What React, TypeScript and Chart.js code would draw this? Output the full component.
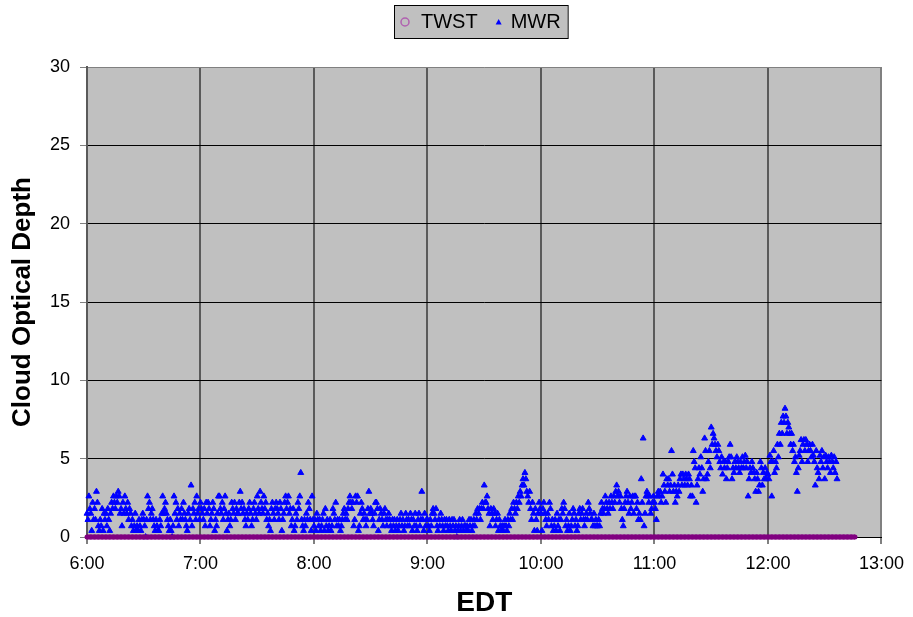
import { useEffect, useRef } from "react";
import { Chart, registerables } from "chart.js";

Chart.register(...registerables);

// ---------- data ----------
const SERIES_NAMES = ["TWST", "MWR"];
const X_TITLE = "EDT";
const Y_TITLE = "Cloud Optical Depth";
const X_TICK_LABELS = ["6:00", "7:00", "8:00", "9:00", "10:00", "11:00", "12:00", "13:00"];
const Y_TICK_LABELS = ["0", "5", "10", "15", "20", "25", "30"];
const X_MIN_MINUTES = 360; // 6:00
const X_MAX_MINUTES = 780; // 13:00

// MWR: one reading every 30 s starting at 6:00
const MWR_START_MINUTES = 360;
const MWR_STEP_MINUTES = 0.5;
const MWR_06 = [
  1.5, 1.1, 2.6, 1.8, 1.5, 0.4, 2.2, 1.1, 1.8, 1.1, 2.9, 2.2, 0.7, 0.4, 1.1, 0.7, 1.8, 0.4, 1.5, 1.1,
  1.5, 0.7, 1.8, 1.1, 0.4, 1.5, 2.2, 1.8, 2.6, 2.2, 1.8, 2.6, 2.2, 2.9, 2.6, 1.5, 1.8, 0.7, 2.2, 1.5,
  2.6, 1.8, 1.5, 2.2, 1.1, 1.8, 1.5, 0.7, 1.1, 0.4, 0.7, 1.5, 0.4, 0.7, 0.4, 1.1, 0.7, 0.4, 1.1, 1.5,
  1.1, 0.7, 0, 1.1, 2.6, 1.8, 2.2, 1.1, 1.5, 1.8, 1.1, 0.7, 0.4, 1.1, 0.7, 0.4, 0.4, 1.1, 0.7, 1.5,
  2.6, 1.5, 1.8, 2.2, 1.5, 1.1, 0.7, 0.4, 1.1, 0.4, 0, 0.7, 2.6, 1.5, 2.2, 1.1, 1.8, 0.7, 1.5, 1.1,
  1.8, 1.1, 2.2, 1.5, 1.1, 0.7, 0.4, 1.5, 1.8, 1.1, 3.3, 0.7, 1.8, 1.5, 2.2, 1.1, 2.6, 1.5, 1.8, 1.1,
];
const MWR_07 = [
  2.2, 1.8, 1.5, 1.1, 1.8, 0.7, 2.2, 1.5, 2.2, 1.8, 0.7, 1.1, 1.5, 2.2, 1.8, 0.4, 1.1, 0.7, 1.5, 2.6,
  2.6, 1.8, 1.5, 2.2, 1.1, 1.8, 2.6, 1.5, 0.4, 1.1, 1.5, 0.7, 1.1, 2.2, 1.8, 1.5, 2.2, 1.1, 1.8, 1.5,
  1.5, 2.2, 2.9, 1.8, 2.2, 1.5, 1.8, 1.1, 0.7, 1.5, 1.1, 1.8, 2.2, 1.5, 0.7, 1.1, 1.8, 2.2, 1.5, 1.1,
  2.6, 1.8, 1.5, 2.9, 2.2, 1.8, 1.5, 2.6, 1.8, 2.2, 1.1, 1.5, 0.7, 1.1, 0.4, 1.8, 2.2, 1.5, 1.1, 1.8,
  2.2, 1.8, 1.5, 1.1, 2.2, 1.8, 0.4, 1.1, 1.5, 2.2, 2.6, 1.8, 2.2, 2.6, 1.5, 1.8, 0.7, 1.1, 1.8, 0.4,
  0.7, 1.5, 1.1, 2.2, 1.8, 2.6, 4.1, 1.1, 0.7, 0.4, 1.1, 0.7, 1.5, 1.1, 2.2, 1.8, 1.1, 0.4, 2.6, 1.1,
];
const MWR_08 = [
  0.7, 1.1, 0.4, 1.5, 1.1, 0.7, 1.1, 0.4, 0.7, 1.1, 1.5, 0.4, 1.8, 0.7, 1.1, 0.4, 0.7, 1.1, 0.4, 0.7,
  1.8, 1.5, 1.1, 2.2, 0.7, 1.1, 0.7, 1.1, 0.4, 0.7, 1.1, 1.5, 1.8, 1.1, 1.5, 1.1, 1.8, 2.2, 2.6, 2.2,
  1.8, 2.2, 0.7, 1.1, 2.6, 2.2, 2.6, 0.4, 0.7, 1.5, 2.2, 1.8, 1.1, 1.5, 1.1, 0.7, 1.1, 1.8, 2.9, 1.5,
  1.8, 1.5, 1.1, 0.7, 1.5, 2.2, 2.2, 1.8, 0.4, 1.1, 1.8, 1.5, 1.1, 0.7, 1.5, 1.8, 1.1, 0.7, 1.1, 1.5,
  1.1, 0.7, 0.4, 1.1, 0.7, 1.1, 0.4, 0.7, 1.1, 0.4, 0.7, 1.1, 1.5, 0.7, 1.1, 0.4, 0.7, 1.5, 1.1, 0.7,
  1.1, 0.7, 1.5, 1.1, 0.4, 1.1, 0.7, 1.5, 0.7, 0.4, 1.1, 1.5, 0.7, 1.1, 2.9, 1.1, 0.4, 1.5, 0.7, 1.1,
];
const MWR_09 = [
  1.1, 0.7, 0.4, 1.1, 0.7, 1.5, 1.8, 1.5, 1.1, 1.8, 0.7, 0.4, 1.1, 0.7, 1.5, 1.1, 0.7, 0.4, 1.1, 0.7,
  1.1, 0.7, 0.4, 1.1, 0.7, 0.4, 1.1, 0.7, 1.1, 0.4, 0.7, 0, 0.4, 0.7, 1.1, 0.4, 0.7, 1.1, 0.4, 0.7,
  0.7, 0.4, 0.7, 0.4, 1.1, 0.7, 1.1, 0.4, 0.7, 1.1, 0.7, 1.5, 1.1, 1.8, 1.5, 1.8, 1.1, 1.8, 2.2, 1.8,
  3.3, 2.2, 2.2, 2.6, 1.8, 1.5, 0.7, 1.8, 1.5, 1.1, 1.8, 1.5, 0.7, 1.1, 1.5, 0.4, 1.1, 0.7, 0.4, 0.7,
  0.4, 0.7, 1.1, 0.7, 0.4, 1.1, 0.7, 1.5, 1.1, 1.8, 1.1, 2.2, 1.8, 1.5, 2.2, 1.8, 2.6, 2.2, 2.9, 2.6,
  3.3, 3.7, 3.3, 4.1, 3.7, 2.9, 2.6, 2.2, 2.9, 1.8, 1.1, 2.2, 1.5, 0.4, 1.8, 1.1, 0.4, 1.5, 2.2, 1.8,
];
const MWR_10 = [
  1.5, 0.4, 1.8, 2.2, 1.5, 1.1, 0.7, 1.5, 1.1, 2.2, 1.8, 0.7, 1.1, 0.4, 0.7, 1.1, 0.4, 1.5, 0.7, 1.1,
  0.4, 1.1, 1.8, 1.5, 2.2, 1.8, 0.7, 1.1, 0.4, 0.7, 1.5, 0.4, 0.7, 1.1, 1.8, 1.5, 0.7, 1.1, 0.4, 0.7,
  1.5, 1.8, 1.1, 1.5, 1.8, 1.1, 0.7, 1.1, 1.5, 1.1, 2.2, 1.8, 1.5, 1.1, 1.1, 0.7, 1.5, 0.7, 1.1, 0.7,
  0.7, 1.1, 0.7, 1.5, 2.2, 1.8, 1.5, 1.8, 2.6, 2.2, 1.8, 1.5, 2.2, 1.8, 2.6, 2.2, 1.8, 2.6, 2.2, 2.9,
  3.3, 2.6, 2.9, 2.2, 2.6, 1.8, 1.1, 0.7, 1.8, 2.2, 2.6, 2.9, 2.2, 1.5, 2.6, 1.8, 2.2, 2.6, 1.5, 2.6,
  2.6, 1.8, 2.2, 1.1, 1.5, 1.1, 3.7, 2.2, 6.3, 0.7, 1.5, 2.6, 2.9, 2.6, 2.2, 2.6, 1.5, 1.8, 2.2, 2.6,
];
const MWR_11 = [
  2.2, 1.8, 1.1, 2.6, 2.9, 2.6, 2.9, 2.2, 2.6, 4.0, 3.3, 2.9, 2.2, 3.7, 3.3, 3.7, 2.9, 3.3, 5.5, 4.0,
  2.9, 3.3, 2.2, 2.9, 2.6, 3.3, 2.9, 3.7, 4.0, 3.3, 4.0, 3.7, 3.3, 4.0, 3.7, 3.3, 4.0, 3.7, 2.6, 3.3,
  2.6, 5.5, 4.8, 4.4, 2.2, 3.3, 3.7, 4.4, 4.0, 5.1, 4.4, 2.9, 3.7, 6.3, 5.5, 3.7, 4.0, 4.8, 5.5, 4.4,
  7.0, 5.9, 6.6, 6.3, 5.9, 5.5, 5.1, 5.9, 5.5, 4.8, 4.4, 5.1, 4.0, 4.8, 4.4, 4.8, 3.7, 4.4, 4.8, 5.1,
  5.9, 5.1, 3.7, 4.4, 4.1, 4.8, 4.4, 5.1, 4.8, 4.4, 4.1, 4.8, 4.4, 5.1, 4.4, 4.8, 5.2, 4.4, 4.8, 2.6,
  3.7, 4.4, 4.1, 4.8, 4.4, 4.1, 3.7, 2.9, 4.1, 3.7, 2.9, 3.3, 4.8, 4.4, 3.3, 4.1, 3.7, 4.4, 3.7, 4.1,
];
const MWR_12 = [
  4.0, 3.7, 5.2, 4.8, 2.6, 4.8, 5.5, 4.1, 4.8, 4.4, 5.9, 5.1, 6.6, 5.9, 7.3, 6.6, 7.7, 7.3, 8.2, 7.7,
  6.6, 7.3, 7.0, 6.6, 5.9, 6.6, 5.5, 5.9, 4.8, 5.1, 4.1, 2.9, 4.4, 5.2, 5.5, 6.2, 4.8, 5.9, 6.2, 5.5,
  6.2, 5.9, 4.8, 5.5, 5.9, 5.5, 5.1, 5.9, 5.2, 4.8, 3.3, 5.5, 4.4, 4.1, 3.7, 5.2, 4.8, 5.5, 4.4, 5.1,
  3.7, 5.2, 4.8, 4.4, 5.1, 4.8, 4.1, 5.2, 4.8, 4.4, 5.1, 4.1, 4.8, 3.7,
];

// TWST: one reading every 2 min starting at 6:00 (all zero)
const TWST_START_MINUTES = 360;
const TWST_STEP_MINUTES = 2;
const TWST_VALUES = [
  0, 0, 0, 0, 0, 0, 0, 0, 0, 0, 0, 0, 0, 0, 0, 0, 0,
  0, 0, 0, 0, 0, 0, 0, 0, 0, 0, 0, 0, 0, 0, 0, 0, 0,
  0, 0, 0, 0, 0, 0, 0, 0, 0, 0, 0, 0, 0, 0, 0, 0, 0,
  0, 0, 0, 0, 0, 0, 0, 0, 0, 0, 0, 0, 0, 0, 0, 0, 0,
  0, 0, 0, 0, 0, 0, 0, 0, 0, 0, 0, 0, 0, 0, 0, 0, 0,
  0, 0, 0, 0, 0, 0, 0, 0, 0, 0, 0, 0, 0, 0, 0, 0, 0,
  0, 0, 0, 0, 0, 0, 0, 0, 0, 0, 0, 0, 0, 0, 0, 0, 0,
  0, 0, 0, 0, 0, 0, 0, 0, 0, 0, 0, 0, 0, 0, 0, 0, 0,
  0, 0, 0, 0, 0, 0, 0, 0, 0, 0, 0, 0, 0, 0, 0, 0, 0,
  0, 0, 0, 0, 0, 0, 0, 0, 0, 0, 0, 0, 0, 0, 0, 0, 0,
  0, 0, 0, 0, 0, 0, 0, 0, 0, 0, 0, 0, 0, 0, 0, 0, 0,
  0, 0, 0, 0, 0, 0, 0, 0, 0, 0, 0, 0, 0, 0, 0, 0, 0,
];

// ---------- styling ----------
const FONT = '"Liberation Sans", Arial, Helvetica, sans-serif';
const PLOT_BG = "#C0C0C0";
const TWST_COLOR = "#800080";
const MWR_COLOR = "#0000FF";

const plotBackground = {
  id: "plotBackground",
  beforeDraw(chart: any) {
    const { ctx, chartArea } = chart;
    if (!chartArea) return;
    ctx.save();
    ctx.fillStyle = PLOT_BG;
    ctx.fillRect(chartArea.left, chartArea.top, chartArea.right - chartArea.left, chartArea.bottom - chartArea.top);
    ctx.restore();
  },
};

const boxedLegend = {
  id: "boxedLegend",
  afterDraw(chart: any) {
    const ctx = chart.ctx;
    ctx.save();
    ctx.font = `20px ${FONT}`;
    ctx.textBaseline = "middle";
    const w0 = ctx.measureText(SERIES_NAMES[0]).width;
    const w1 = ctx.measureText(SERIES_NAMES[1]).width;
    const left = 394;
    const top = 5;
    const h = 33;
    const cy = top + h / 2 + 0.5;
    const c0 = left + 11;
    const t0 = c0 + 16;
    const c1 = t0 + w0 + 21;
    const t1 = c1 + 12;
    const right = t1 + w1 + 7;
    ctx.fillStyle = PLOT_BG;
    ctx.fillRect(left, top, right - left, h);
    ctx.strokeStyle = "#000";
    ctx.lineWidth = 1;
    ctx.strokeRect(left + 0.5, top + 0.5, right - left, h);
    // TWST marker (hollow circle)
    ctx.beginPath();
    ctx.arc(c0, cy, 4, 0, Math.PI * 2);
    ctx.strokeStyle = "#B060B0";
    ctx.lineWidth = 1.5;
    ctx.stroke();
    // MWR marker (small triangle)
    ctx.beginPath();
    ctx.moveTo(c1, cy - 3);
    ctx.lineTo(c1 + 3, cy + 2.5);
    ctx.lineTo(c1 - 3, cy + 2.5);
    ctx.closePath();
    ctx.fillStyle = MWR_COLOR;
    ctx.fill();
    ctx.fillStyle = "#000";
    ctx.fillText(SERIES_NAMES[0], t0, cy);
    ctx.fillText(SERIES_NAMES[1], t1, cy);
    ctx.restore();
  },
};

export default function App() {
  const canvasRef = useRef<HTMLCanvasElement | null>(null);

  useEffect(() => {
    document.body.style.margin = "0";
    const canvas = canvasRef.current;
    if (!canvas) return;

    const mwrValues = [...MWR_06, ...MWR_07, ...MWR_08, ...MWR_09, ...MWR_10, ...MWR_11, ...MWR_12];
    const mwrData = mwrValues.map((v, i) => ({ x: MWR_START_MINUTES + i * MWR_STEP_MINUTES, y: v }));
    const twstData = TWST_VALUES.map((v, i) => ({ x: TWST_START_MINUTES + i * TWST_STEP_MINUTES, y: v }));

    const chart = new Chart(canvas, {
      type: "scatter",
      data: {
        datasets: [
          {
            label: SERIES_NAMES[0],
            data: twstData,
            showLine: true,
            borderWidth: 5,
            borderColor: TWST_COLOR,
            backgroundColor: TWST_COLOR,
            pointStyle: "circle",
            pointRadius: 2.5,
            pointBorderWidth: 0,
            pointBackgroundColor: TWST_COLOR,
            clip: false,
          } as any,
          {
            label: SERIES_NAMES[1],
            data: mwrData,
            pointStyle: "triangle",
            pointRadius: 3.4,
            borderWidth: 1,
            backgroundColor: MWR_COLOR,
            borderColor: MWR_COLOR,
            clip: false,
          } as any,
        ],
      },
      options: {
        animation: false,
        responsive: false,
        devicePixelRatio: 1,
        events: [],
        layout: { padding: { top: 67, right: 30, left: 0, bottom: 0 } },
        plugins: {
          legend: { display: false },
          tooltip: { enabled: false },
        },
        scales: {
          x: {
            type: "linear",
            min: X_MIN_MINUTES,
            max: X_MAX_MINUTES,
            afterFit(scale: any) {
              scale.height = 80;
            },
            ticks: {
              stepSize: 60,
              color: "#000",
              padding: 9,
              font: { family: FONT, size: 18 },
              callback: (_v: any, i: number) => X_TICK_LABELS[i],
            },
            grid: {
              color: (c: any) => (c.tick && c.tick.value === X_MAX_MINUTES ? "#808080" : "#5A5A5A"),
              lineWidth: 2,
              tickLength: 7,
              tickColor: "#808080",
            },
            border: { color: "#000", width: 1 },
            title: {
              display: true,
              text: X_TITLE,
              color: "#000",
              font: { family: FONT, size: 28, weight: "bold", lineHeight: 1 },
              padding: { top: 0, bottom: 0 },
            },
          },
          y: {
            type: "linear",
            min: 0,
            max: 30,
            afterFit(scale: any) {
              scale.width = 87;
            },
            ticks: {
              stepSize: 5,
              color: "#000",
              padding: 10,
              font: { family: FONT, size: 18 },
              callback: (_v: any, i: number) => Y_TICK_LABELS[i],
            },
            grid: {
              color: (c: any) => (c.tick && c.tick.value === 30 ? "#808080" : "#000000"),
              lineWidth: 1,
              tickLength: 7,
              tickColor: "#808080",
            },
            border: { color: "#5A5A5A", width: 2 },
            title: {
              display: true,
              text: Y_TITLE,
              color: "#000",
              font: { family: FONT, size: 26, weight: "bold", lineHeight: 1 },
              padding: { top: 10, bottom: 0 },
            },
          },
        },
      },
      plugins: [plotBackground, boxedLegend],
    });

    return () => chart.destroy();
  }, []);

  return (
    <div style={{ width: 913, height: 617 }}>
      <canvas ref={canvasRef} width={913} height={617} style={{ display: "block" }} />
    </div>
  );
}
